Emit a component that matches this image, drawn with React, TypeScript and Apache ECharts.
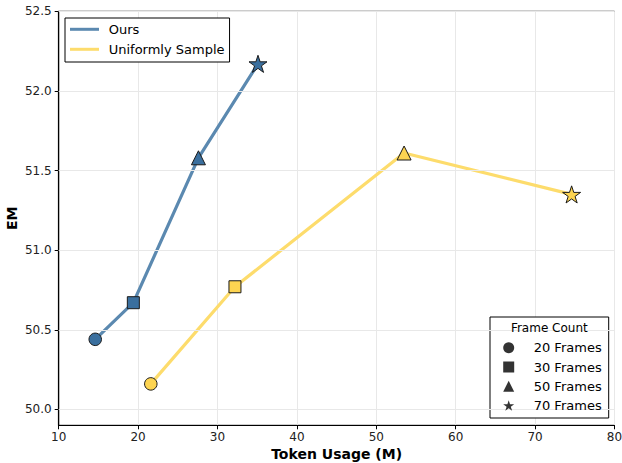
import React, { useEffect, useRef } from "react";
import * as echarts from "echarts";

// ---- data ----
const frameLabels = ["20 Frames", "30 Frames", "50 Frames", "70 Frames"];
const oursTokens = [14.6, 19.4, 27.6, 35.1];
const oursEM = [50.44, 50.67, 51.58, 52.17];
const uniformTokens = [21.6, 32.2, 53.5, 74.6];
const uniformEM = [50.16, 50.77, 51.61, 51.35];
const seriesNames = ["Ours", "Uniformly Sample"];
const yTickValues = [50.0, 50.5, 51.0, 51.5, 52.0, 52.5];

// ---- styles ----
const FONT = "DejaVu Sans";
const starPath = (() => {
  let d = "";
  for (let k = 0; k < 10; k++) {
    const a = -Math.PI / 2 + (k * Math.PI) / 5;
    const r = k % 2 ? 0.382 : 1;
    d += (k ? "L" : "M") + (r * Math.cos(a)).toFixed(4) + "," + (r * Math.sin(a)).toFixed(4);
  }
  return "path://" + d + "Z";
})();
const frameSymbols = ["circle", "rect", "triangle", starPath];
const markerSizes = [12.5, 12, 14, 18];
const blueLine = "#5b89b0";
const blueMarker = "#3a6f9e";
const yellowLine = "#fddc6c";
const yellowMarker = "#fdd451";

function buildPoints(xs: number[], ys: number[], fill: string) {
  return xs.map((x, i) => ({
    value: [x, ys[i]],
    symbol: frameSymbols[i],
    symbolSize: markerSizes[i],
    symbolKeepAspect: true,
    itemStyle: { color: fill, borderColor: "#1a1a1a", borderWidth: 1 },
  }));
}

export default function App() {
  const ref = useRef<HTMLDivElement>(null);
  useEffect(() => {
    if (!ref.current) return;
    const chart = echarts.init(ref.current, undefined, { renderer: "svg" });
    const option: any = {
      animation: false,
      backgroundColor: "#fff",
      textStyle: { fontFamily: FONT },
      grid: {
        left: 58.7,
        right: 7.5,
        top: 11.3,
        bottom: 37.7,
        containLabel: false,
        outerBoundsMode: "none",
        show: true,
        borderColor: "#000",
        borderWidth: 1,
        backgroundColor: "#fff",
      },
      xAxis: {
        type: "value",
        min: 10,
        max: 80,
        interval: 10,
        name: "Token Usage (M)",
        nameLocation: "middle",
        nameGap: 22,
        nameMoveOverlap: false,
        nameTextStyle: { fontFamily: FONT, fontSize: 14, fontWeight: "bold", color: "#000" },
        axisLine: { show: true, lineStyle: { color: "#000", width: 1.2 } },
        axisTick: { show: true, length: 4, lineStyle: { color: "#000", width: 1 } },
        axisLabel: { fontFamily: FONT, fontSize: 12, color: "#222", margin: 6 },
        splitLine: { show: true, lineStyle: { color: "#e8e8e8", width: 1 } },
      },
      yAxis: {
        type: "value",
        min: 49.9,
        max: 52.5,
        name: "EM",
        nameLocation: "middle",
        nameGap: 40,
        nameMoveOverlap: false,
        nameTextStyle: { fontFamily: FONT, fontSize: 14, fontWeight: "bold", color: "#000" },
        axisLine: { show: true, lineStyle: { color: "#000", width: 1.2 } },
        axisTick: { show: true, length: 4, customValues: yTickValues, lineStyle: { color: "#000", width: 1 } },
        axisLabel: {
          fontFamily: FONT,
          fontSize: 12,
          color: "#222",
          margin: 7,
          customValues: yTickValues,
          formatter: (v: number) => v.toFixed(1),
        },
        splitLine: { show: false },
      },
      legend: [
        {
          data: [
            { name: seriesNames[0], icon: "path://M0,0H29V3H0Z", itemStyle: { color: blueLine } },
            { name: seriesNames[1], icon: "path://M0,0H29V3H0Z", itemStyle: { color: yellowLine } },
          ],
          orient: "vertical",
          left: 65,
          top: 18,
          itemWidth: 29,
          itemHeight: 3,
          itemGap: 5,
          padding: [3.8, 5, 5.2, 5],
          backgroundColor: "#fff",
          borderColor: "#000",
          borderWidth: 1,
          borderRadius: 0,
          selectedMode: false,
          textStyle: { fontFamily: FONT, fontSize: 13, color: "#000", lineHeight: 15, padding: [0, 0, 0, 4.7] },
          z: 6,
        },
        {
          data: frameLabels.map((n, i) => ({
            name: n,
            icon: frameSymbols[i],
            itemStyle: { color: "#000" },
          })),
          orient: "vertical",
          left: 503.2,
          top: 340.2,
          itemWidth: 11,
          itemHeight: 11,
          itemGap: 4.3,
          padding: 0,
          symbolKeepAspect: true,
          selectedMode: false,
          textStyle: { fontFamily: FONT, fontSize: 13, color: "#000", lineHeight: 15, padding: [0, 0, 0, 14.5] },
          z: 6,
        },
      ],
      graphic: [
        {
          type: "rect",
          z: 5,
          shape: { x: 490, y: 317, width: 118.7, height: 101 },
          style: { fill: "#fff", stroke: "#000", lineWidth: 1 },
        },
        {
          type: "text",
          z: 7,
          x: 549.3,
          y: 327.7,
          style: {
            text: "Frame Count",
            fontFamily: FONT,
            fontSize: 12,
            fill: "#000",
            textAlign: "center",
            textVerticalAlign: "middle",
          },
        },
      ],
      series: [
        {
          name: "grid",
          type: "line",
          data: [],
          z: 1,
          silent: true,
          markLine: {
            silent: true,
            symbol: "none",
            label: { show: false },
            lineStyle: { color: "#e8e8e8", width: 1, type: "solid" },
            emphasis: { disabled: true },
            data: yTickValues.map((v) => ({ yAxis: v })),
          },
        },
        {
          name: seriesNames[0],
          type: "line",
          z: 3,
          data: buildPoints(oursTokens, oursEM, blueMarker),
          lineStyle: { color: blueLine, width: 3.2 },
          itemStyle: { color: blueMarker },
          emphasis: { disabled: true },
        },
        {
          name: seriesNames[1],
          type: "line",
          z: 3,
          data: buildPoints(uniformTokens, uniformEM, yellowMarker),
          lineStyle: { color: yellowLine, width: 3.2 },
          itemStyle: { color: yellowMarker },
          emphasis: { disabled: true },
        },
        ...frameLabels.map((n, i) => ({
          name: n,
          type: "scatter",
          data: [],
          symbol: frameSymbols[i],
          symbolSize: 11,
          itemStyle: { color: "#000" },
        })),
      ],
    };
    chart.setOption(option);
    return () => chart.dispose();
  }, []);
  return (
    <div
      ref={ref}
      style={{ position: "fixed", left: 0, top: 0, width: 622, height: 463 }}
    />
  );
}
